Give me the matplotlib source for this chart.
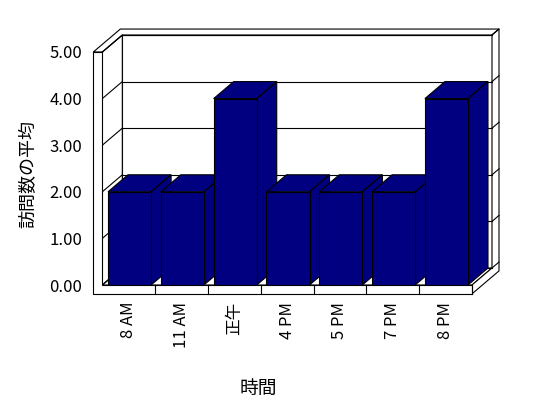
import matplotlib
matplotlib.use("Agg")
import matplotlib.pyplot as plt
from matplotlib.patches import Polygon
from matplotlib.lines import Line2D
from matplotlib.transforms import IdentityTransform

plt.rcParams['font.family'] = ['Noto Sans CJK JP', 'DejaVu Sans']

# ── データ ──────────────────────────────────────────────
categories = ["8 AM", "11 AM", "正午", "4 PM", "5 PM", "7 PM", "8 PM"]
values = [2, 2, 4, 2, 2, 2, 4]
y_ticks = [0, 1, 2, 3, 4, 5]
y_tick_labels = [f"{t:.2f}" for t in y_ticks]
x_title = "時間"
y_title = "訪問数の平均"

# ── 図の設定 ────────────────────────────────────────────
W, H = 548, 398
fig = plt.figure(figsize=(W / 100, H / 100), dpi=100)
fig.patch.set_facecolor("white")
ax = fig.add_axes([102.3 / W, (H - 285) / H, (472 - 102.3) / W, (285 - 52) / H])
ax.set_xlim(-0.5, len(categories) - 0.5)
ax.set_ylim(y_ticks[0], y_ticks[-1])
for s in ax.spines.values():
    s.set_visible(False)
ax.patch.set_visible(False)

DX, DY = 20, 17          # 奥行き 1 あたりのずれ (px)
WALL = 0.17              # 左壁の厚さ (x 単位)
FLOOR = 0.19             # 床の厚さ (y 単位)
BACK = 1.35              # 奥壁の裏面の奥行き
NAVY = "#000080"
LW = 0.8

def proj(x, y, d):
    px, py = ax.transData.transform((x, y))
    return (px + d * DX, py + d * DY)

def face(pts, fc, z):
    ax.add_patch(Polygon([proj(*p) for p in pts], closed=True, facecolor=fc,
                         edgecolor="black", lw=LW, transform=IdentityTransform(),
                         clip_on=False, zorder=z))

def seg(a, b, z):
    pa, pb = proj(*a), proj(*b)
    ax.add_line(Line2D([pa[0], pb[0]], [pa[1], pb[1]], color="black", lw=LW,
                       transform=IdentityTransform(), clip_on=False, zorder=z))

x0, x1 = -0.5, len(categories) - 0.5
ytop = y_ticks[-1]

# ── 壁と床 ───────────────────────────────────────────────
face([(x0, 0, 1), (x1, 0, 1), (x1, ytop, 1), (x0, ytop, 1)], "white", 1)       # 奥壁
face([(x0, 0, 0), (x0, ytop, 0), (x0, ytop, 1), (x0, 0, 1)], "white", 1)       # 左壁内側
face([(x0, 0, 0), (x1, 0, 0), (x1, 0, 1), (x0, 0, 1)], "white", 1)             # 床
face([(x0 - WALL, ytop, 0), (x0, ytop, 0), (x0, ytop, 1), (x1, ytop, 1),
      (x1, ytop, BACK), (x0 - WALL, ytop, BACK)], "white", 1)                  # 上面
face([(x1, -FLOOR, 0), (x1, 0, 0), (x1, 0, 1), (x1, ytop, 1),
      (x1, ytop, BACK), (x1, -FLOOR, BACK)], "white", 1)                       # 右側面

# 目盛線
for t in y_ticks:
    seg((x0 - WALL, t, 0), (x0, t, 0), 1.5)
    seg((x0, t, 0), (x0, t, 1), 1.5)
    seg((x0, t, 1), (x1, t, 1), 1.5)
    seg((x1, t, 1), (x1, t, BACK), 1.5)

# 前面 (L 字)
face([(x0 - WALL, -FLOOR, 0), (x1, -FLOOR, 0), (x1, 0, 0), (x0, 0, 0),
      (x0, ytop, 0), (x0 - WALL, ytop, 0)], "white", 2)
for i in range(len(categories)):
    seg((i + 0.5, -FLOOR, 0), (i + 0.5, 0, 0), 2.5)

# ── 棒 ───────────────────────────────────────────────────
BW = 0.816
for i, v in enumerate(values):
    z = 3 + i * 0.01
    c = i + 0.016
    l, r = c - BW / 2, c + BW / 2
    face([(l, v, 0), (r, v, 0), (r, v, 1), (l, v, 1)], NAVY, z)
    face([(r, 0, 0), (r, v, 0), (r, v, 1), (r, 0, 1)], NAVY, z)
    ax.bar(c, v, width=BW, color=NAVY, edgecolor="black", lw=LW, zorder=z)

# ── 目盛ラベル・軸タイトル ─────────────────────────────
ax.set_yticks(y_ticks, y_tick_labels)
ax.set_xticks(range(len(categories)), categories, rotation=90)
ax.tick_params(axis="y", length=0, pad=14.4, labelsize=12)
ax.tick_params(axis="x", length=0, pad=12, labelsize=12)
ax.set_ylabel(y_title, fontsize=13)
ax.yaxis.set_label_coords(-0.176, 0.476)
ax.set_xlabel(x_title, fontsize=13.5)
ax.xaxis.set_label_coords(0.421, -0.399)

fig.savefig("out.png", dpi=100)
